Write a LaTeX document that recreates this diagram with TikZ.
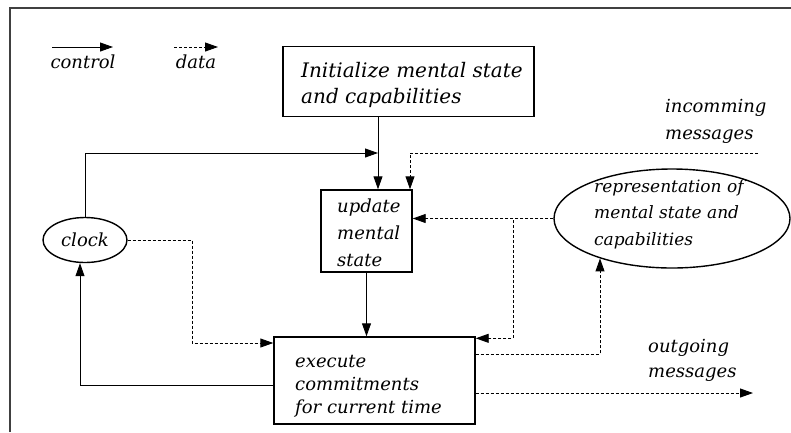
\documentclass[tikz,border=0pt]{standalone}
\usepackage{fontspec}
\setmainfont{DejaVu Serif}
\usetikzlibrary{arrows.meta,shapes.geometric}
\begin{document}
\begin{tikzpicture}[x=1pt,y=-1pt,
  txt/.style={font=\itshape\fontsize{18}{26}\selectfont, inner sep=0pt, align=left},
  boxnode/.style={draw, line width=1.4pt, inner sep=0pt},
  ellnode/.style={draw, ellipse, line width=1.4pt, inner sep=0pt, font=\itshape\fontsize{18}{26}\selectfont, align=left},
  ctrl/.style={line width=0.9pt, -{Triangle[length=13pt,width=9pt]}},
  dat/.style={line width=0.9pt, dash pattern=on 3pt off 2pt, -{Triangle[length=13pt,width=9pt]}}
]
\useasboundingbox (0,0) rectangle (791,432);
% frame
\coordinate (f1) at (10,432);
\coordinate (f2) at (10,8);
\coordinate (f3) at (791,8);
\draw[line width=1.2pt, black!75] (f1) -- (f2) -- (f3);

% legend
\coordinate (c1) at (52,47); \coordinate (c2) at (113,47);
\coordinate (d1) at (174,47); \coordinate (d2) at (218,47);
\draw[ctrl] (c1) -- (c2);
\draw[dat] (d1) -- (d2);
\node[txt, anchor=base] (lc) at (83,68) {control};
\node[txt, anchor=base] (ld) at (196,68) {data};

% boxes (anchor base = baseline of the last line)
\node[boxnode, minimum width=251pt, minimum height=70pt] (init) at (408.5,81.5) {};
\node[txt, anchor=base west, font=\itshape\fontsize{20}{26}\selectfont] (initt) at (301,103)
  {Initialize mental state\\and capabilities};
\node[boxnode, minimum width=91pt, minimum height=82pt] (upd) at (366.5,231) {};
\node[txt, anchor=base west, font=\itshape\fontsize{18}{27}\selectfont] (updt) at (337,266) {update\\mental\\state};
\node[boxnode, minimum width=201pt, minimum height=87pt] (exec) at (374.5,380.5) {};
\node[txt, anchor=base west, font=\itshape\fontsize{18}{23}\selectfont] (exect) at (295,413) {execute\\commitments\\for current time};
\node[ellnode, minimum width=236pt, minimum height=99pt] (rep) at (672,218.5) {};
\node[txt, anchor=base west, font=\itshape\fontsize{17}{26.5}\selectfont] (rept) at (594,245)
  {representation of\\mental state and\\capabilities};
\node[ellnode, minimum width=84pt, minimum height=45pt] (clock) at (85,240) {clock};

% labels
\node[txt, anchor=base west, font=\itshape\fontsize{18}{27}\selectfont] (inc) at (665,139) {incomming\\messages};
\node[txt, anchor=base west, font=\itshape\fontsize{18}{25}\selectfont] (outg) at (648,377) {outgoing\\messages};

% coordinates
\coordinate (j1) at (378,153);
\coordinate (j2) at (410,153);
\coordinate (incE) at (758,153);
\coordinate (j3) at (513,220);
\coordinate (j4) at (598,354);
\coordinate (outE) at (753,393);
\coordinate (j5) at (192,343);
\coordinate (j6) at (80,385);

% control connectors
\draw[ctrl] (init.south -| j1) -- (upd.north -| j1);
\draw[ctrl] (clock.north) |- (j1);
\draw[ctrl] (upd.south) -- (upd.south |- exec.north);
\draw[ctrl] (exec.west |- j6) -- (j6) -- (clock.south -| j6);

% data connectors
\draw[dat] (incE) -- (j2) -- (upd.north -| j2);
\draw[dat] (rep.west) -- (upd.east |- rep.west);
\draw[dat] (j3) |- ([yshift=-2pt]exec.north east);
\draw[dat] (exec.east |- j4) -| (rep.209);
\draw[dat] (exec.east |- outE) -- (outE);
\draw[dat] (clock.east) -| (j5) -- (exec.west |- j5);
\end{tikzpicture}
\end{document}
